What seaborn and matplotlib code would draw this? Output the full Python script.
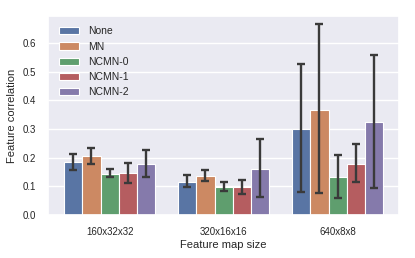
import pandas as pd
import matplotlib
matplotlib.use("Agg")
import matplotlib.pyplot as plt
import seaborn as sns

# Values
sizes = ["160x32x32", "320x16x16", "640x8x8"]
methods = ["None", "MN", "NCMN-0", "NCMN-1", "NCMN-2"]

# mean per method, in the order of sizes
means = {
    "None":   [0.184, 0.115, 0.301],
    "MN":     [0.206, 0.137, 0.368],
    "NCMN-0": [0.144, 0.097, 0.133],
    "NCMN-1": [0.146, 0.096, 0.178],
    "NCMN-2": [0.178, 0.161, 0.324],
}
err_low = {
    "None":   [0.157, 0.099, 0.080],
    "MN":     [0.178, 0.119, 0.076],
    "NCMN-0": [0.132, 0.083, 0.059],
    "NCMN-1": [0.111, 0.074, 0.115],
    "NCMN-2": [0.133, 0.064, 0.094],
}
err_high = {
    "None":   [0.213, 0.139, 0.527],
    "MN":     [0.235, 0.157, 0.667],
    "NCMN-0": [0.161, 0.114, 0.209],
    "NCMN-1": [0.183, 0.121, 0.247],
    "NCMN-2": [0.228, 0.265, 0.559],
}

rows = []
for m in methods:
    for i, s in enumerate(sizes):
        rows.append({"size": s, "method": m, "corr": means[m][i],
                     "lo": err_low[m][i], "hi": err_high[m][i]})
df = pd.DataFrame(rows)

sns.set_theme(style="darkgrid", palette="deep")
plt.rcParams["font.family"] = ["Liberation Sans", "DejaVu Sans"]

fig, ax = plt.subplots(figsize=(4.15, 2.58), dpi=100)
sns.barplot(data=df, x="size", y="corr", hue="method", hue_order=methods,
            order=sizes, errorbar=None, edgecolor="white", linewidth=0.8, ax=ax)

# error bars on top of each bar (containers follow hue order)
for m, cont in zip(methods, ax.containers):
    sub = df[df["method"] == m].set_index("size").loc[sizes]
    xs = [p.get_x() + p.get_width() / 2 for p in cont.patches]
    ax.errorbar(xs, sub["corr"],
                yerr=[sub["corr"] - sub["lo"], sub["hi"] - sub["corr"]],
                fmt="none", ecolor="#3a3a3a", elinewidth=1.7, capsize=3,
                capthick=1.7, zorder=5)

ax.set_ylim(0, 0.695)
ax.set_xlabel("Feature map size", fontsize=8, labelpad=2)
ax.set_ylabel("Feature correlation", fontsize=8)
ax.tick_params(labelsize=7, pad=3)
ax.legend(loc="upper left", fontsize=7.5, frameon=False, handlelength=2.0,
          labelspacing=0.5, borderaxespad=0.6)

fig.subplots_adjust(left=0.116, right=0.962, top=0.938, bottom=0.167)
fig.savefig("out.png", dpi=100)
